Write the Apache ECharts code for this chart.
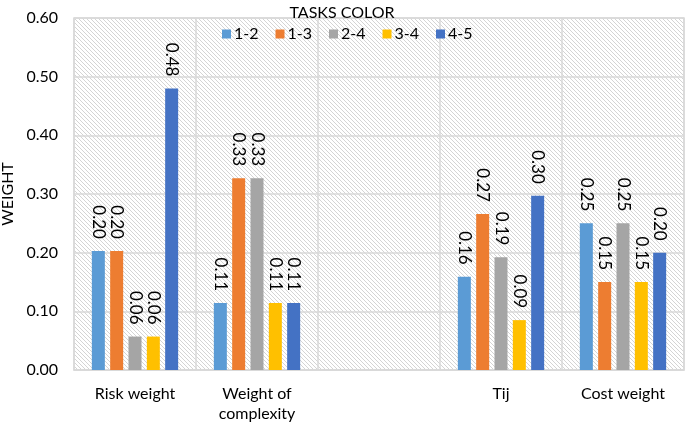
<!DOCTYPE html>
<html>
<head>
<meta charset="utf-8">
<script src="https://cdn.jsdelivr.net/npm/echarts@6/dist/echarts.min.js"></script>
<style>html,body{margin:0;padding:0;background:#fff;}#c{width:685px;height:427px;}</style>
</head>
<body>
<div id="c"></div>
<script>
const categories = ['Risk weight', 'Weight of\ncomplexity', '', 'Tij', 'Cost weight'];
const seriesNames = ['1-2', '1-3', '2-4', '3-4', '4-5'];
const s12 = [0.203, 0.114, null, 0.159, 0.25];
const s13 = [0.203, 0.327, null, 0.266, 0.15];
const s24 = [0.057, 0.327, null, 0.192, 0.25];
const s34 = [0.057, 0.114, null, 0.085, 0.15];
const s45 = [0.48, 0.114, null, 0.297, 0.20];
const yTicks = [0, 0.1, 0.2, 0.3, 0.4, 0.5, 0.6];
const colors = ['#5B9BD5', '#ED7D31', '#A5A5A5', '#FFC000', '#4472C4'];

const tile = document.createElement('canvas');
tile.width = 8; tile.height = 8;
const tctx = tile.getContext('2d');
tctx.fillStyle = '#ffffff';
tctx.fillRect(0, 0, 8, 8);
const img = tctx.getImageData(0, 0, 8, 8);
for (let y = 0; y < 8; y++) {
  for (let x = 0; x < 8; x++) {
    if (((x - y) % 4 + 4) % 4 === 0) {
      const i = (y * 8 + x) * 4;
      img.data[i] = 212; img.data[i + 1] = 212; img.data[i + 2] = 212; img.data[i + 3] = 255;
    }
  }
}
tctx.putImageData(img, 0, 0);

const font = 'Lato';
const allData = [s12, s13, s24, s34, s45];
const chart = echarts.init(document.getElementById('c'));
chart.setOption({
  animation: false,
  textStyle: { fontFamily: font },
  title: {
    text: 'TASKS COLOR', left: 337, top: 0, textAlign: 'center',
    textStyle: { fontFamily: font, fontSize: 16, fontWeight: 'normal', color: '#000' }
  },
  legend: {
    data: seriesNames, left: 217, top: 21, itemWidth: 9, itemHeight: 9, itemGap: 17,
    icon: 'rect',
    textStyle: { fontFamily: font, fontSize: 16, color: '#000', padding: [0, 0, 0, -2] }
  },
  grid: {
    left: 74, right: 1, top: 18, bottom: 57, show: true,
    outerBoundsMode: 'none', containLabel: false,
    backgroundColor: { image: tile, repeat: 'repeat' },
    borderColor: '#d9d9d9', borderWidth: 1.5
  },
  xAxis: {
    type: 'category', data: categories,
    axisLine: { lineStyle: { color: '#d9d9d9', width: 1.5 } },
    axisTick: { show: false },
    splitLine: { show: true, interval: 0, lineStyle: { color: '#d9d9d9', width: 1.5 } },
    axisLabel: { interval: 0, fontFamily: font, fontSize: 16, color: '#000', margin: 14, lineHeight: 20 }
  },
  yAxis: {
    type: 'value', min: 0, max: 0.6, interval: 0.1,
    name: 'WEIGHT', nameLocation: 'middle', nameGap: 52,
    nameTextStyle: { fontFamily: font, fontSize: 16, color: '#000' },
    axisLine: { show: false }, axisTick: { show: false },
    splitLine: { lineStyle: { color: '#d9d9d9', width: 1.5 } },
    axisLabel: {
      fontFamily: font, fontSize: 16, color: '#000', margin: 16,
      formatter: v => yTicks.find(t => Math.abs(t - v) < 1e-9).toFixed(2)
    }
  },
  series: seriesNames.map((n, i) => ({
    name: n, type: 'bar', data: allData[i], barWidth: 13, barGap: '41%',
    itemStyle: { color: colors[i] },
    label: {
      show: true, position: 'top', rotate: -90, distance: 12,
      align: 'right', verticalAlign: 'middle',
      fontFamily: font, fontSize: 17, color: '#000',
      formatter: p => p.value == null ? '' : p.value.toFixed(2)
    }
  }))
});
</script>
</body>
</html>
